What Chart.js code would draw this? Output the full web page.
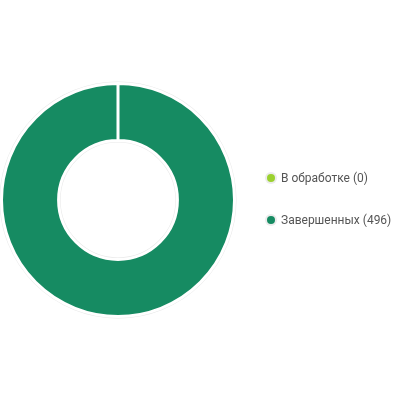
<!DOCTYPE html>
<html><head><meta charset="utf-8">
<script src="https://cdn.jsdelivr.net/npm/chart.js@4/dist/chart.umd.min.js"></script>
<style>
html,body{margin:0;padding:0;background:#fff;}
#wrap{position:relative;width:400px;height:400px;}
#c{position:absolute;left:0;top:0;}
#legend{position:absolute;left:265px;top:0;font-family:Roboto,"Liberation Sans",Arial,sans-serif;font-size:12px;color:#555;}
.item{position:absolute;left:0;white-space:nowrap;height:14px;line-height:14px;}
.dot{position:absolute;left:2px;top:3px;width:8px;height:8px;border-radius:50%;box-shadow:0 0 0 2px #ececec;}
.lbl{position:absolute;left:16px;top:0;}
</style></head>
<body><div id="wrap"><canvas id="c" width="400" height="400"></canvas><div id="legend"></div></div>
<script>
const categories = ["В обработке", "Завершенных"];
const values = [0, 496];
const colors = ["#9bd12f", "#168b62"];

const ringPlugin = {
  id: 'ring',
  beforeDatasetsDraw(chart) {
    const meta = chart.getDatasetMeta(0);
    const arc = meta.data[1] || meta.data[0];
    if (!arc) return;
    const {x, y, outerRadius, innerRadius} = arc.getProps(['x','y','outerRadius','innerRadius'], true);
    const ctx = chart.ctx;
    ctx.save();
    ctx.strokeStyle = '#e8e8e8';
    ctx.lineWidth = 2;
    ctx.beginPath(); ctx.arc(x, y, outerRadius + 1, 0, Math.PI * 2); ctx.stroke();
    ctx.beginPath(); ctx.arc(x, y, innerRadius - 1, 0, Math.PI * 2); ctx.stroke();
    ctx.restore();
  }
};

new Chart(document.getElementById('c'), {
  type: 'doughnut',
  data: {
    labels: categories,
    datasets: [{
      data: values,
      backgroundColor: colors,
      borderColor: '#ffffff',
      borderWidth: 3,
      hoverOffset: 0
    }]
  },
  options: {
    responsive: false,
    animation: false,
    cutout: '51%',
    layout: { padding: { left: 0, right: 164, top: 0, bottom: 0 } },
    plugins: { legend: { display: false }, tooltip: { enabled: false } }
  },
  plugins: [ringPlugin]
});

const legendYs = [178, 220];
const lg = document.getElementById('legend');
categories.forEach((cat, i) => {
  const it = document.createElement('div');
  it.className = 'item';
  it.style.top = (legendYs[i] - 7) + 'px';
  const d = document.createElement('span');
  d.className = 'dot'; d.style.background = colors[i];
  const t = document.createElement('span');
  t.className = 'lbl'; t.textContent = cat + ' (' + values[i] + ')';
  it.appendChild(d); it.appendChild(t);
  lg.appendChild(it);
});
</script></body></html>
